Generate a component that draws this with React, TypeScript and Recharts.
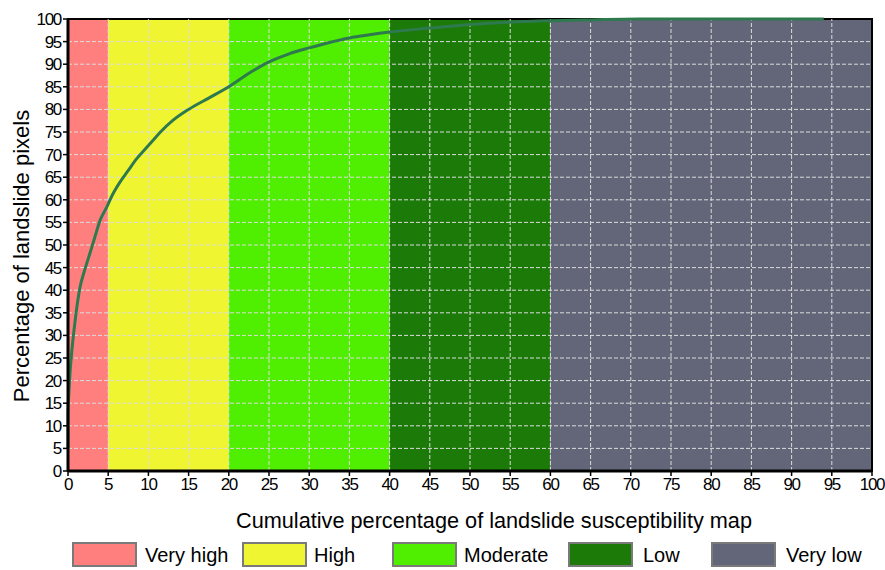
import React from 'react'
import {
  LineChart,
  Line,
  XAxis,
  YAxis,
  ReferenceArea,
  ReferenceLine,
  Label,
} from 'recharts'

// cumulative % of susceptibility map (x) vs % of landslide pixels (y)
const mapPercent = [
  0, 0, 0.1, 0.25, 0.5, 0.87, 1.5, 2, 2.7, 3.3, 4, 4.85, 5.5, 6.5, 7.5, 8.5, 9.5,
  10.5, 11.5, 13, 15, 17.5, 20, 22.5, 25, 27.5, 30, 32.5, 35, 37.5, 40, 45, 50,
  55, 60, 65, 71, 80, 94,
]
const landslidePercent = [
  5, 13, 17, 21.7, 27, 33, 40.7, 44, 48, 51.5, 55.5, 58.5, 61, 64, 66.5, 69, 71,
  73, 75, 77.5, 80, 82.5, 85, 88, 90.5, 92.3, 93.6, 94.8, 95.8, 96.5, 97.1, 98,
  98.8, 99.3, 99.6, 99.8, 100, 100, 100,
]

const classNames = ['Very high', 'High', 'Moderate', 'Low', 'Very low']
const classBreaks = [0, 5, 20, 40, 60, 100]
const classColors = ['#ff7f7f', '#f0f532', '#50ee00', '#1b7a08', '#626678']

const ticks = Array.from({ length: 21 }, (_, i) => i * 5)
const gridTicks = ticks.slice(1, -1)

const data = mapPercent.map((x, i) => ({ x, y: landslidePercent[i] }))

const legendBoxLeft = [72, 242, 392, 568, 711]
const legendTextLeft = [145, 314, 464, 643, 786]

const font = '"Liberation Sans", Arial, sans-serif'
const tickStyle = { fill: '#000', fontSize: 17, fontFamily: font, letterSpacing: -1.3 }

export default function App() {
  return (
    <div style={{ position: 'absolute', left: 0, top: 0, width: 885, height: 570, background: '#fff' }}>
      <LineChart
        width={885}
        height={570}
        data={data}
        margin={{ top: 19, right: 13, bottom: 69, left: 8 }}
      >
        {classColors.map((c, i) => (
          <ReferenceArea
            key={classNames[i]}
            x1={classBreaks[i]}
            x2={classBreaks[i + 1]}
            y1={0}
            y2={100}
            fill={c}
            fillOpacity={1}
            stroke="none"
          />
        ))}
        {gridTicks.map((t) => (
          <ReferenceLine key={'h' + t} y={t} stroke="#dcdcdc" strokeDasharray="4 2" />
        ))}
        {gridTicks.map((t) => (
          <ReferenceLine key={'v' + t} x={t} stroke="#dcdcdc" strokeDasharray="4 2" />
        ))}
        <XAxis
          type="number"
          dataKey="x"
          domain={[0, 100]}
          ticks={ticks}
          interval={0}
          height={30}
          stroke="#000"
          strokeWidth={3}
          tickSize={5}
          tick={tickStyle}
          tickLine={{ stroke: '#000', strokeWidth: 1.5 }}
        >
          <Label
            value="Cumulative percentage of landslide susceptibility map"
            position="bottom"
            offset={12}
            dx={24}
            style={{ fill: '#000', fontSize: 21.7, fontFamily: font }}
          />
        </XAxis>
        <YAxis
          type="number"
          domain={[0, 100]}
          ticks={ticks}
          interval={0}
          width={60}
          stroke="#000"
          strokeWidth={3}
          tickSize={5}
          tick={tickStyle}
          tickLine={{ stroke: '#000', strokeWidth: 1.5 }}
        >
          <Label
            content={() => (
              <text
                x={29}
                y={256}
                transform="rotate(-90 29 256)"
                textAnchor="middle"
                style={{ fill: '#000', fontSize: 22, fontFamily: font }}
              >
                Percentage of landslide pixels
              </text>
            )}
          />
        </YAxis>
        <ReferenceArea x1={0} x2={100} y1={0} y2={100} fill="none" stroke="#000" strokeWidth={2} />
        <Line
          type="monotone"
          dataKey="y"
          stroke="#2e7a4e"
          strokeWidth={3}
          dot={false}
          isAnimationActive={false}
        />
      </LineChart>
      {classNames.map((name, i) => (
        <React.Fragment key={name}>
          <div
            style={{
              position: 'absolute',
              left: legendBoxLeft[i],
              top: 542,
              width: 61,
              height: 21,
              background: classColors[i],
              border: '2px solid #7a7a7a',
            }}
          />
          <div
            style={{
              position: 'absolute',
              left: legendTextLeft[i],
              top: 542,
              fontSize: 20,
              fontFamily: font,
              lineHeight: '26px',
              color: '#000',
            }}
          >
            {name}
          </div>
        </React.Fragment>
      ))}
    </div>
  )
}
